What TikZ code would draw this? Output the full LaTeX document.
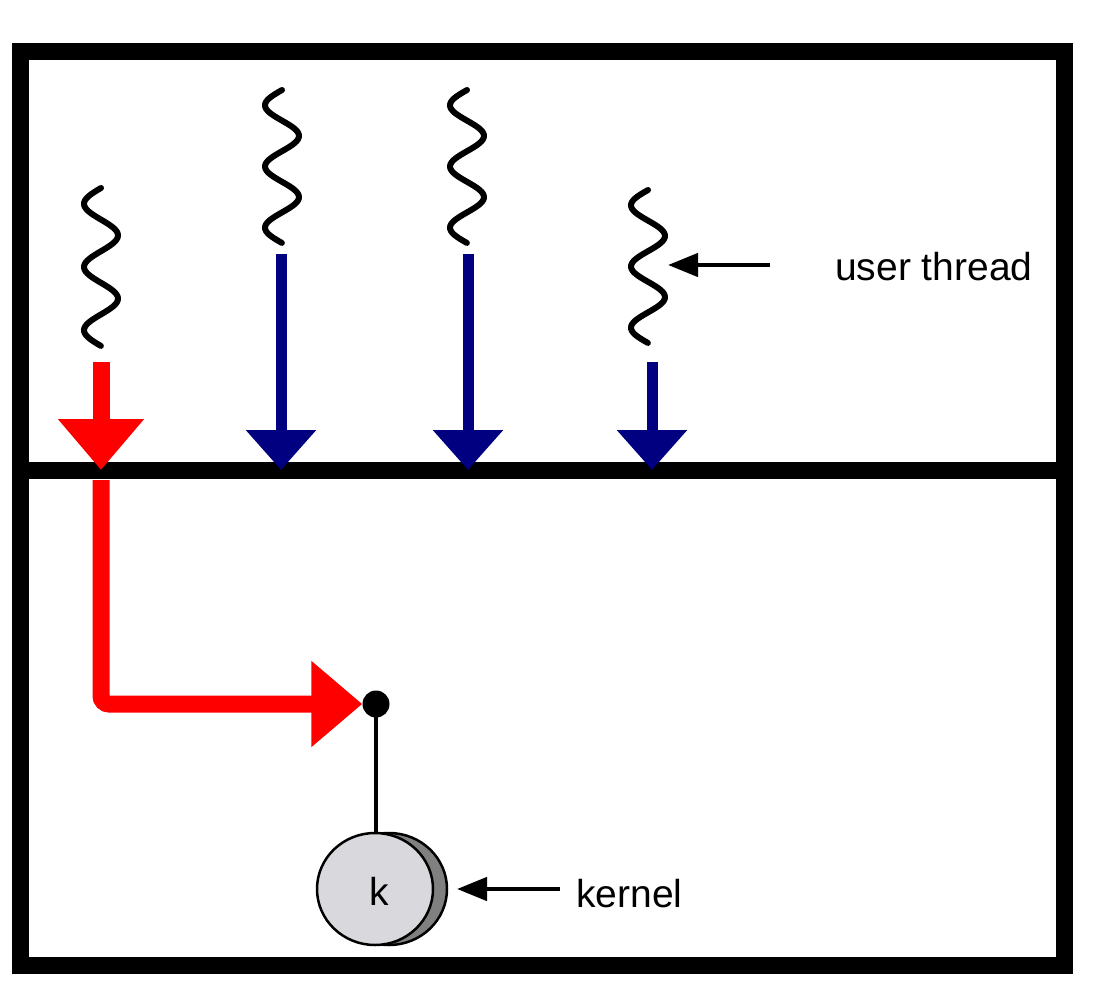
\documentclass[tikz,border=0pt]{standalone}
\usepackage{fontspec}
\setmainfont{Liberation Sans}
\usetikzlibrary{arrows.meta}
\definecolor{navyblue}{HTML}{000080}
\definecolor{kfront}{HTML}{D9D9DD}
\definecolor{kback}{HTML}{808080}
\tikzset{
  frame/.style={line width=17pt, draw=black},
  redarrow/.style={draw=red, line width=17pt, -{Triangle[length=51pt,width=83pt]}},
  bluearrow/.style={draw=navyblue, line width=11pt, -{Triangle[length=40pt,width=68pt]}},
  pointer/.style={draw=black, line width=4.5pt, -{Triangle[length=30pt,width=23pt]}},
  wave/.style={draw=black, line width=6pt, line cap=round},
  label/.style={font=\fontsize{39}{44}\selectfont, inner sep=0pt},
}
\begin{document}
\begin{tikzpicture}[x=1pt,y=-1pt]
\useasboundingbox[fill=white] (0,0) rectangle (1100,1000);
% frame
\draw[frame] (20,52) rectangle (1064,965);
\draw[frame] (20,470) -- (1064,470);
% user threads (wavy lines)
\draw[wave] plot[domain=0:1,samples=90,smooth] ({101-17*sin(900*\x)},{188+158*\x});
\draw[wave] plot[domain=0:1,samples=90,smooth] ({282-17*sin(900*\x)},{90+153*\x});
\draw[wave] plot[domain=0:1,samples=90,smooth] ({467-17*sin(900*\x)},{90+153*\x});
\draw[wave] plot[domain=0:1,samples=90,smooth] ({648-17*sin(900*\x)},{190+153*\x});
% arrow end points
\coordinate (r1s) at (101,362);
\coordinate (r1e) at (101,470);
\coordinate (r2s) at (101,480);
\coordinate (b1s) at (281,254);
\coordinate (b1e) at (281,470);
\coordinate (b2s) at (468,254);
\coordinate (b2e) at (468,470);
\coordinate (b3s) at (652,362);
\coordinate (b3e) at (652,470);
% kernel
\node[circle, fill=black, minimum size=27pt, inner sep=0pt] (dot) at (376,704) {};
\coordinate (kt) at (376,833);
\draw[line width=3.5pt] (dot.center) -- (kt);
\filldraw[fill=kback, draw=black, line width=2.5pt] (389,889) ellipse [x radius=58pt, y radius=56pt];
\filldraw[fill=kfront, draw=black, line width=2.5pt] (375,889) ellipse [x radius=58pt, y radius=56pt];
\node[label, anchor=base] (k) at (379,905) {k};
% arrows
\draw[redarrow] (r1s) -- (r1e);
\draw[redarrow, rounded corners=8pt] (r2s) |- (dot.west);
\draw[bluearrow] (b1s) -- (b1e);
\draw[bluearrow] (b2s) -- (b2e);
\draw[bluearrow] (b3s) -- (b3e);
% labels
\node[label, anchor=base west] (ut) at (835,280) {user thread};
\coordinate (uta) at (770,265);
\coordinate (utt) at (668,265);
\draw[pointer] (uta) -- (utt);
\node[label, anchor=base west] (kl) at (576,907) {kernel};
\coordinate (kla) at (560,889);
\coordinate (klt) at (457,889);
\draw[pointer] (kla) -- (klt);
\end{tikzpicture}
\end{document}
